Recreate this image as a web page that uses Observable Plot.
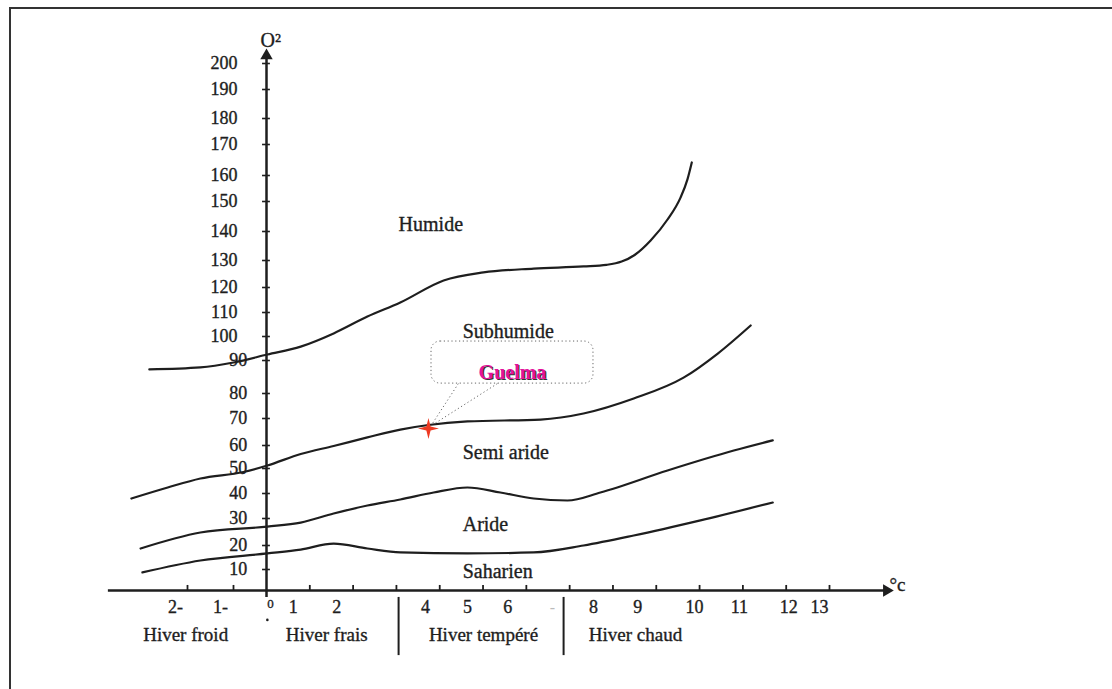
<!DOCTYPE html>
<html><head><meta charset="utf-8">
<script src="https://cdn.jsdelivr.net/npm/d3@7"></script>
<script src="https://cdn.jsdelivr.net/npm/@observablehq/plot@0.6"></script>
<style>
html,body{margin:0;padding:0;background:#fff;}
#wrap{position:relative;width:1112px;height:689px;overflow:hidden;background:#fff;}
#frame{position:absolute;left:9px;top:7px;width:1120px;height:700px;border-left:2px solid #333;border-top:2px solid #333;pointer-events:none;}
#wrap svg{position:absolute;left:0;top:0;}
#err{position:absolute;left:40px;top:40px;font:14px monospace;color:red;white-space:pre-wrap;width:1000px;}
</style></head><body><div id="wrap"><div id="frame"></div><div id="err"></div></div>
<script>
window.onerror = (m, s, l, c, e) => { document.getElementById("err").textContent += "ERR: " + m + " line " + l + "\n"; };
// Axis values (non-uniform, as in the original hand-drawn scale)
const yTicks = [10,20,30,40,50,60,70,80,90,100,110,120,130,140,150,160,170,180,190,200];
const yScaleValues = [0,10,20,30,40,50,60,70,80,90,100,110,120,130,140,150,160,170,180,190,200];
const xScaleValues = [-2,-1,0,13];
const xTicks = [-2,-1,1,2,3,4,5,6,7,8,9,10,11,12,13];
const xLabels = ["2-","1-","0","1","2","4","5","6","-","8","9","10","11","12","13"];
const xLabelAt = [-2.26,-1.28,0.09,0.62,1.62,3.67,4.64,5.57,6.6,7.55,8.57,9.88,10.92,12.06,12.77];

// Limits between bioclimatic zones: [m (°C), Q2]
const limitHumide = [[-2.83,87.3],[-1.72,87.9],[-1,89.4],[0.02,92.5],[0.79,95.8],[1.55,101.3],[2.33,108.3],[3.09,114],[4.09,122.6],[5.01,125.6],[6.17,127],[7.32,127.8],[7.85,128.4],[8.2,129.6],[8.5,131.9],[8.87,136.9],[9.26,144],[9.56,151.5],[9.72,158.5],[9.82,164.2]];
const limitSubhumide = [[-3.22,38],[-2.43,42.4],[-1.72,46],[-0.7,48.6],[0.02,51.3],[0.79,56.3],[1.55,59.8],[2.33,63],[3.09,65.9],[3.74,67.6],[4.64,68.9],[6.33,69.6],[7.32,72],[8.48,78],[9.63,84.8],[10.42,92.9],[11.18,104.6]];
const limitSemiAride = [[-3.02,18.75],[-1.72,24.8],[0.02,27],[0.79,28.5],[1.55,32],[2.33,35.2],[3.09,37.6],[3.86,40.4],[4.64,42.4],[5.4,40.4],[6.17,38],[6.95,37.2],[7.71,40.4],[9.26,49.2],[10.79,57.8],[11.69,61.9]];
const limitAride = [[-2.98,8.6],[-1.72,13.75],[0.02,16.7],[0.79,18.3],[1.55,20.7],[2.33,18.75],[3.09,17.1],[4.64,16.7],[6.17,17.1],[7.32,20],[8.48,23.7],[10.02,29.3],[11.69,36.4]];

const zoneNames = ["Humide","Subhumide","Semi aride","Aride","Saharien"];
const zoneX = [3.05,4.53,4.53,4.53,4.53];
const zoneY = [142.3,102.1,57,27.8,9.0];

const winterNames = ["Hiver froid","Hiver frais","Hiver tempéré","Hiver chaud"];
const winterX = [-2.04,1.39,5.01,8.52];
const winterSeparators = [3.05,6.86];

const guelma = {name:"Guelma", m:3.74, q2:66.3, labelX:5.68, labelY:86.4};
const guelmaBox = {x1:3.81, x2:7.55, y1:83, y2:97.9};
const guelmaPointer = [{x1:4.43,y1:83,x2:3.83,y2:68.1},{x1:5.33,y1:83,x2:3.88,y2:68.1}];

const ink = "#1e1e1e";
const txt = {fill: ink, stroke: ink, strokeWidth: 0.35};
const star = {draw(ctx, size){const r=Math.sqrt(size/Math.PI), w=r*0.2;
  ctx.moveTo(0,-r);ctx.lineTo(w,-w);ctx.lineTo(r,0);ctx.lineTo(w,w);ctx.lineTo(0,r);ctx.lineTo(-w,w);ctx.lineTo(-r,0);ctx.lineTo(-w,-w);ctx.closePath();}};

const lines = [limitHumide, limitSubhumide, limitSemiAride, limitAride];
try {
const chart = Plot.plot({
  width: 1112, height: 689,
  marginTop: 0, marginRight: 0, marginBottom: 0, marginLeft: 0,
  style: {fontFamily: "Liberation Serif", fontSize: "18px", color: ink, background: "transparent"},
  x: {type: "linear", domain: xScaleValues, range: [187,233,266,829], axis: null},
  y: {type: "linear", domain: yScaleValues, range: [590,569,545,518,493,468,445,418,393,360,336,312,287,260,231,201,175,144,118,89,63], axis: null},
  marks: [
    Plot.ruleY([0], {x1: -3.72, x2: 14.3, stroke: ink, strokeWidth: 2.4}),
    Plot.dot([[14.32,0]], {x: d=>d[0], y: d=>d[1], symbol: "triangle", r: 4.6, rotate: 90, fill: ink, stroke: "none"}),
    Plot.ruleX([0], {y1: -3.3, y2: 202, stroke: ink, strokeWidth: 2.5}),
    Plot.dot([[0,203]], {x: d=>d[0], y: d=>d[1], symbol: "triangle", r: 4.6, fill: ink, stroke: "none"}),
    Plot.ruleY(yTicks, {x1: -0.12, x2: 0.09, stroke: ink, strokeWidth: 1.6}),
    Plot.ruleX(xTicks, {y1: 0, y2: 2.4, stroke: ink, strokeWidth: 1.8}),
    Plot.text(yTicks.filter(v=>v<100), {x: -0.58, y: d=>d, text: d=>String(d), textAnchor: "end", ...txt, fontSize: 18}),
    Plot.text(yTicks.filter(v=>v>=100), {x: -0.88, y: d=>d, text: d=>String(d), textAnchor: "end", ...txt, fontSize: 18}),
    Plot.text(xLabels.filter(d=>d!=="0" && d!=="-"), {x: d=>xLabelAt[xLabels.indexOf(d)], y: -8.1, text: d=>d, ...txt, fontSize: 18}),
    Plot.text(["0"], {x: d=>xLabelAt[xLabels.indexOf(d)], y: -6.5, text: d=>d, ...txt, fontSize: 13}),
    Plot.text(["-"], {x: d=>xLabelAt[xLabels.indexOf(d)], y: -8.1, text: d=>d, fill: "#bbb", fontSize: 16}),
    Plot.dot([[0.02,-14]], {x: d=>d[0], y: d=>d[1], r: 1.3, fill: ink, stroke: "none"}),
    Plot.text(["O²"], {x: 0.1, y: 209, text: d=>d, ...txt, fontSize: 20}),
    Plot.text(["°c"], {x: 14.57, y: 2.9, text: d=>d, ...txt, fontSize: 19}),
    Plot.ruleX(winterSeparators, {y1: -3.3, y2: -31, stroke: ink, strokeWidth: 2}),
    Plot.text(winterNames, {x: (d,i)=>winterX[i], y: -21, text: d=>d, ...txt, fontSize: 19}),
    ...lines.map(c => Plot.line(c, {x: d=>d[0], y: d=>d[1], curve: "monotone-x", stroke: ink, strokeWidth: 2.2})),
    Plot.text(zoneNames, {x: (d,i)=>zoneX[i], y: (d,i)=>zoneY[i], text: d=>d, textAnchor: "start", ...txt, fontSize: 20}),
    Plot.rect([guelmaBox], {x1: "x1", x2: "x2", y1: "y1", y2: "y2", rx: 9, fill: "none", stroke: "#666", strokeWidth: 1, strokeDasharray: "1.2,2.6"}),
    Plot.link(guelmaPointer, {x1: "x1", y1: "y1", x2: "x2", y2: "y2", stroke: "#666", strokeWidth: 1, strokeDasharray: "1.2,2.6"}),
    Plot.text([guelma], {x: "labelX", y: "labelY", text: "name", fill: "#333", fontSize: 20, fontWeight: "bold", dx: 1.2, dy: 1.2}),
    Plot.text([guelma], {x: "labelX", y: "labelY", text: "name", fill: "#e3129c", fontSize: 20, fontWeight: "bold"}),
    Plot.dot([guelma], {x: "m", y: "q2", symbol: star, r: 10.5, fill: "#ee3a22", stroke: "none"})
  ]
});
document.getElementById("wrap").appendChild(chart);
} catch (e) { document.getElementById("err").textContent += "CATCH: " + e.message + "\n" + e.stack; }
</script>
</body></html>
